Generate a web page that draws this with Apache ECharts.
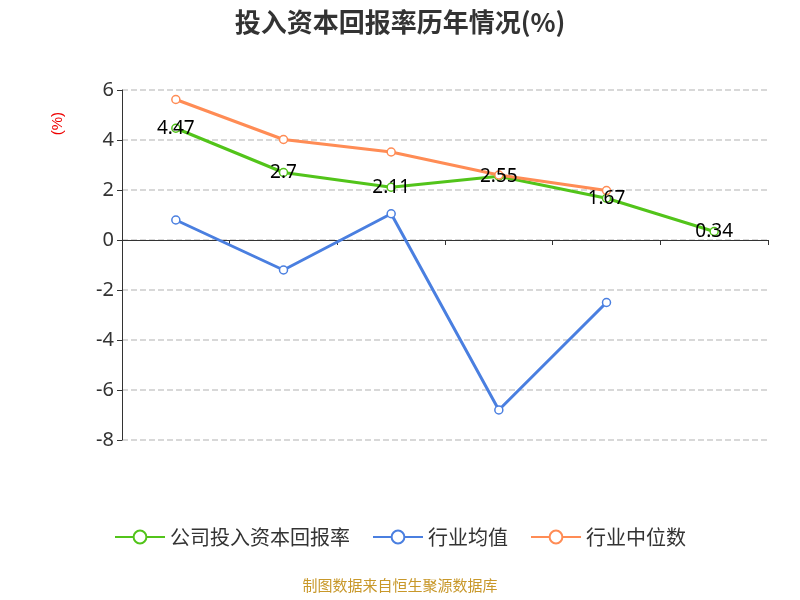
<!DOCTYPE html>
<html><head><meta charset="utf-8">
<script src="https://cdn.jsdelivr.net/npm/echarts@6/dist/echarts.min.js"></script>
<style>body{margin:0}#c{width:800px;height:600px}</style></head>
<body><div id="c"></div>
<script>
const categories=['2021','2022','2023','2024','2025','2026H1'];
const company=[4.47,2.7,2.11,2.55,1.67,0.34];
const industryAvg=[0.8,-1.2,1.05,-6.8,-2.5,null];
const industryMedian=[5.62,4.02,3.52,2.6,1.98,null];
const yTicks={min:-8,max:6,interval:2};
const chart=echarts.init(document.getElementById('c'));
const mk=(name,data,color,label)=>({name,type:'line',data,symbol:'circle',symbolSize:8,
 itemStyle:{color:'#fff',borderColor:color,borderWidth:1.5},lineStyle:{color,width:3},
 label:{show:label,position:'inside',color:'#000',fontSize:19,fontFamily:'Noto Sans'}});
chart.setOption({
 title:{text:'投入资本回报率历年情况(%)',left:'center',top:4,textStyle:{fontSize:26,fontWeight:'bold',color:'#333',fontFamily:'Noto Sans CJK SC'}},
 grid:{left:122,right:32,top:90,bottom:160,outerBoundsMode:'none',containLabel:false},
 legend:{bottom:48,itemWidth:50,itemHeight:16,itemGap:22,textStyle:{fontSize:20,color:'#333',fontFamily:'Noto Sans CJK SC'},
  data:['公司投入资本回报率','行业均值','行业中位数']},
 xAxis:{type:'category',data:categories,axisLine:{onZero:true,lineStyle:{color:'#333'}},axisTick:{show:true,lineStyle:{color:'#333'}},
  axisLabel:{fontSize:20,color:'#333',margin:215,fontFamily:'Noto Sans'}},
 yAxis:{type:'value',min:yTicks.min,max:yTicks.max,interval:yTicks.interval,
  axisLine:{show:true,lineStyle:{color:'#333'}},axisTick:{show:true,lineStyle:{color:'#333'}},
  axisLabel:{fontSize:20,color:'#333',fontFamily:'Noto Sans'},splitLine:{lineStyle:{type:'dashed',color:'#ccc',width:1.5}}},
 graphic:[{type:'text',left:50,top:112,rotation:Math.PI/2,style:{text:'(%)',fill:'#e00',fontSize:15}},
  {type:'text',left:'center',top:578,style:{text:'制图数据来自恒生聚源数据库',fill:'#c8982a',fontSize:15,fontFamily:'Noto Sans CJK SC'}}],
 series:[mk('公司投入资本回报率',company,'#52c41a',true),mk('行业均值',industryAvg,'#4a7fe0',false),mk('行业中位数',industryMedian,'#ff8c55',false)]
});
</script></body></html>
